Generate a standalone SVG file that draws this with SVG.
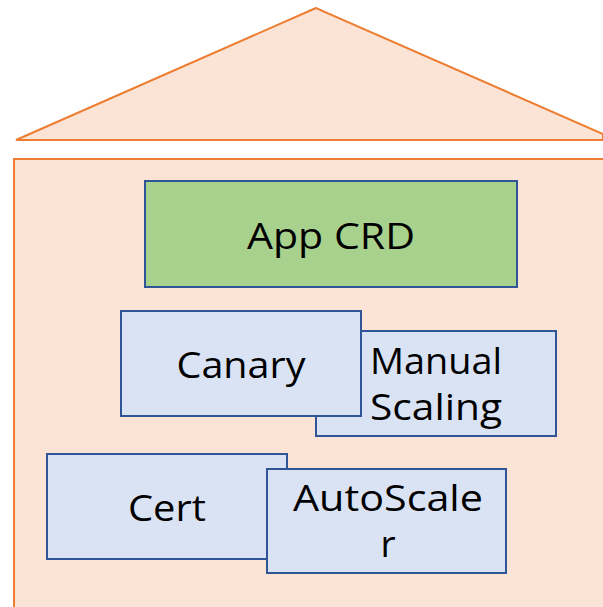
<svg xmlns="http://www.w3.org/2000/svg" width="603" height="607" viewBox="0 0 603 607">
  <style>
    .house { fill: #FBE3D6; stroke: #ED7D31; stroke-width: 2; }
    .box { stroke: #2F5597; stroke-width: 2; }
    .blue { fill: #DAE3F3; }
    .green { fill: #A9D18E; }
    .lbl { font-family: "Open Sans", "Noto Sans", sans-serif; font-size: 37px; fill: #000; }
  </style>
  <rect width="603" height="607" fill="#FFFFFF"/>
  <!-- roof and walls -->
  <g id="roof">
    <polygon class="house" points="316,8 16,140 603,140 603,134"/>
    <line x1="16" y1="140" x2="603" y2="140" stroke="#ED7D31" stroke-width="2"/>
  </g>
  <g id="body">
    <rect class="house" x="14" y="159" width="600" height="460"/>
  </g>
  <g id="connectors"></g>
  <g id="app-crd">
    <rect class="box green" x="145" y="181" width="372" height="106"/>
    <text class="lbl" x="331" y="249" text-anchor="middle" textLength="168" lengthAdjust="spacingAndGlyphs">App CRD</text>
  </g>
  <g id="manual-scaling">
    <rect class="box blue" x="316" y="331" width="240" height="105"/>
    <text class="lbl" x="370" y="374" textLength="132" lengthAdjust="spacingAndGlyphs">Manual</text>
    <text class="lbl" x="370" y="420" textLength="132" lengthAdjust="spacingAndGlyphs">Scaling</text>
  </g>
  <g id="canary">
    <rect class="box blue" x="121" y="311" width="240" height="105"/>
    <text class="lbl" x="241" y="378" text-anchor="middle" textLength="129" lengthAdjust="spacingAndGlyphs">Canary</text>
  </g>
  <g id="cert">
    <rect class="box blue" x="47" y="454" width="240" height="105"/>
    <text class="lbl" x="167" y="521" text-anchor="middle" textLength="78" lengthAdjust="spacingAndGlyphs">Cert</text>
  </g>
  <g id="autoscaler">
    <rect class="box blue" x="267" y="469" width="239" height="104"/>
    <text class="lbl" x="388" y="511" text-anchor="middle" textLength="190" lengthAdjust="spacingAndGlyphs">AutoScale</text>
    <text class="lbl" x="388" y="557" text-anchor="middle">r</text>
  </g>
</svg>
